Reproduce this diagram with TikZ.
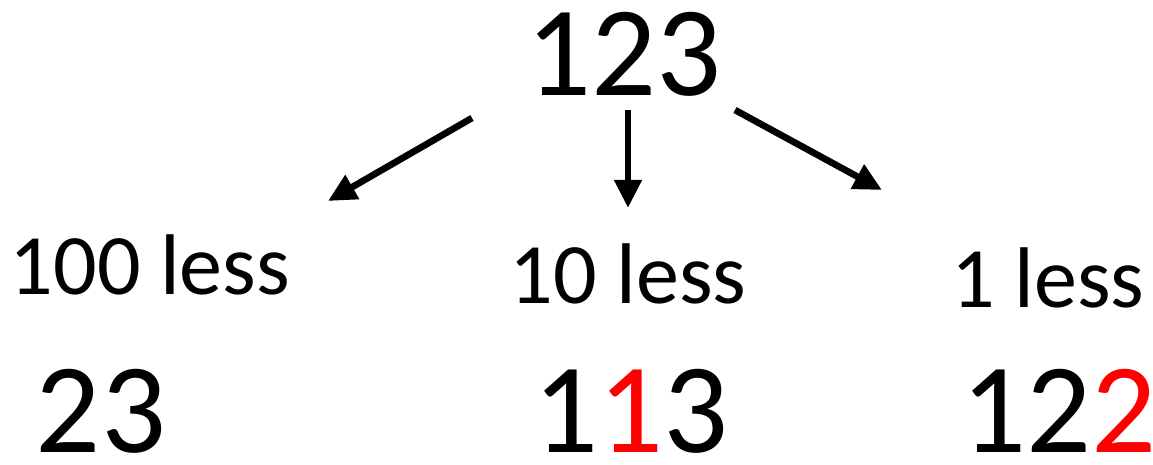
\documentclass[tikz,border=0pt]{standalone}
\usepackage{fontspec}
\setmainfont{Carlito}
\usepackage{xcolor}
\usetikzlibrary{arrows.meta}

\begin{document}
\begin{tikzpicture}[
  x=0.02cm, y=-0.02cm,
  big/.style={inner sep=0pt, anchor=base, text height=0.64em, text depth=0pt,
              font=\fontsize{73}{80}\selectfont},
  lbl/.style={inner sep=0pt, anchor=base, font=\fontsize{49}{54}\selectfont},
  arr/.style={-{Triangle[length=16pt, width=15pt]}, line width=3.8pt}
]
  \useasboundingbox (0,0) rectangle (1153,464);
  \node[big] (num)    at (624,95)   {123};
  \node[lbl] (hund)   at (150,294)  {100 less};
  \node[lbl] (ten)    at (628,303)  {10 less};
  \node[lbl] (one)    at (1048,307) {1 less};
  \node[big] (rhund)  at (101,452)  {23};
  \node[big] (rten)   at (631,452)  {1\textcolor{red}{1}3};
  \node[big] (rone)   at (1059,452) {12\textcolor{red}{2}};
  % arrow ends
  \coordinate (la) at (472,118);
  \coordinate (lb) at (328,201);
  \coordinate (ma) at (628,110);
  \coordinate (mb) at (628,208);
  \coordinate (ra) at (735,110);
  \coordinate (rb) at (882,190);
  \draw[arr] (la) -- (lb);
  \draw[arr] (ma) -- (mb);
  \draw[arr] (ra) -- (rb);
\end{tikzpicture}
\end{document}
